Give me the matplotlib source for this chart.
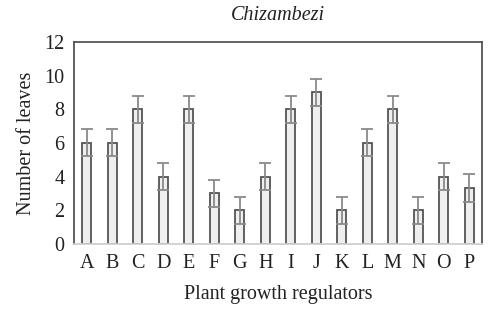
import numpy as np
import matplotlib.pyplot as plt

plt.rcParams['font.family'] = ['Liberation Serif', 'DejaVu Serif']

# Number of leaves per plant growth regulator treatment
regulators = ['A', 'B', 'C', 'D', 'E', 'F', 'G', 'H', 'I', 'J', 'K', 'L', 'M', 'N', 'O', 'P']
leaves = [6, 6, 8, 4, 8, 3, 2, 4, 8, 9, 2, 6, 8, 2, 4, 3.3]
errors = [0.8, 0.8, 0.8, 0.8, 0.8, 0.8, 0.8, 0.8, 0.8, 0.8, 0.8, 0.8, 0.8, 0.8, 0.8, 0.83]

fig = plt.figure(figsize=(5.0, 3.23), dpi=100)
ax = fig.add_axes([0.148, 0.245, 0.816, 0.625])

x = np.arange(len(regulators))
ax.bar(x, leaves, width=0.36, color='#efefef', edgecolor='#555555', linewidth=1.3, zorder=2)
ax.errorbar(x, leaves, yerr=errors, fmt='none', ecolor='#8a8a8a', elinewidth=1.3,
            capsize=4, capthick=1.3, zorder=3)

ax.set_xlim(-0.5, len(regulators) - 0.5)
ax.set_ylim(0, 12)
ax.set_yticks(np.arange(0, 13, 2))
ax.set_xticks(x)
ax.set_xticklabels(regulators)

ax.tick_params(axis='both', length=0, labelsize=14.5, colors='#222222')
ax.tick_params(axis='x', pad=7)
ax.tick_params(axis='y', pad=7)

for side in ['top', 'left', 'right']:
    ax.spines[side].set_color('#555555')
    ax.spines[side].set_linewidth(1.3)
ax.spines['bottom'].set_color('#d0d0d0')
ax.spines['bottom'].set_linewidth(1.3)

ax.set_title('Chizambezi', fontsize=14.5, style='italic', pad=16, color='#222222')
ax.set_ylabel('Number of leaves', fontsize=14.5, color='#222222', labelpad=6)
ax.set_xlabel('Plant growth regulators', fontsize=14.5, color='#222222', labelpad=9)

fig.savefig('out.png', dpi=100)
